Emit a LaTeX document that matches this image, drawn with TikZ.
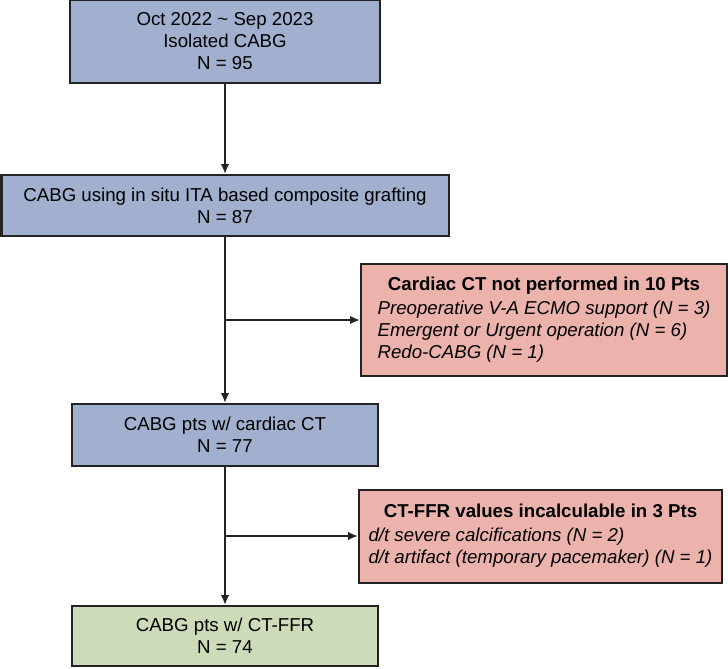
\documentclass[tikz,border=0pt]{standalone}
\usepackage{fontspec}
\setmainfont{Liberation Sans}
\usetikzlibrary{arrows.meta}

\definecolor{blu}{RGB}{160,176,206}
\definecolor{pnk}{RGB}{236,178,172}
\definecolor{grn}{RGB}{205,219,184}
\definecolor{edge}{RGB}{35,35,35}

\tikzset{
  box/.style={draw=edge,line width=1.5pt,inner sep=0pt,align=center,
    font=\fontsize{14}{16.5}\selectfont},
  blubox/.style={box,fill=blu},
  pnkbox/.style={box,fill=pnk},
  grnbox/.style={box,fill=grn}
}

\begin{document}
\begin{tikzpicture}[x=0.75pt,y=-0.75pt,>={Latex[length=7.5pt,width=6.5pt]},line width=1.5pt]
      \useasboundingbox (0,0) rectangle (728,668);
      \node (all) [blubox,minimum width=232.5pt,minimum height=62.25pt] at (225,41.5)
        {Oct 2022 \textasciitilde{} Sep 2023\\Isolated CABG\\N = 95};
      \node (ita) [blubox,minimum width=335.25pt,minimum height=45.75pt] at (225,205.5)
        {CABG using in situ ITA based composite grafting\\N = 87};
      \node (noct) [pnkbox,minimum width=274.5pt,minimum height=84pt] at (544,320)
        {\begin{tabular}{@{}l@{}}
          \multicolumn{1}{@{}c@{}}{\textbf{Cardiac CT not performed in 10 Pts}}\\[2pt]
          \textit{Preoperative V-A ECMO support (N = 3)}\\
          \textit{Emergent or Urgent operation (N = 6)}\\
          \textit{Redo-CABG (N = 1)}
        \end{tabular}};
      \node (ct) [blubox,minimum width=229.5pt,minimum height=46.5pt] at (225,435)
        {CABG pts w/ cardiac CT\\N = 77};
      \node (noffr) [pnkbox,minimum width=272.25pt,minimum height=69.75pt] at (540.5,536)
        {\begin{tabular}{@{}l@{}}
          \multicolumn{1}{@{}c@{}}{\textbf{CT-FFR values incalculable in 3 Pts}}\\[2pt]
          \textit{d/t severe calcifications (N = 2)}\\
          \textit{d/t artifact (temporary pacemaker) (N = 1)}
        \end{tabular}};
      \node (ffr) [grnbox,minimum width=229.5pt,minimum height=45pt] at (225,636)
        {CABG pts w/ CT-FFR\\N = 74};
      \coordinate (b1) at (ita.south |- noct.west);
      \coordinate (b2) at (ct.south |- noffr.west);
      \draw[->,edge] (all) -- (ita);
      \draw[->,edge] (ita) -- (ct);
      \draw[->,edge] (ct) -- (ffr);
      \draw[->,edge] (b1) -- (noct);
      \draw[->,edge] (b2) -- (noffr);
    \end{tikzpicture}
\end{document}
